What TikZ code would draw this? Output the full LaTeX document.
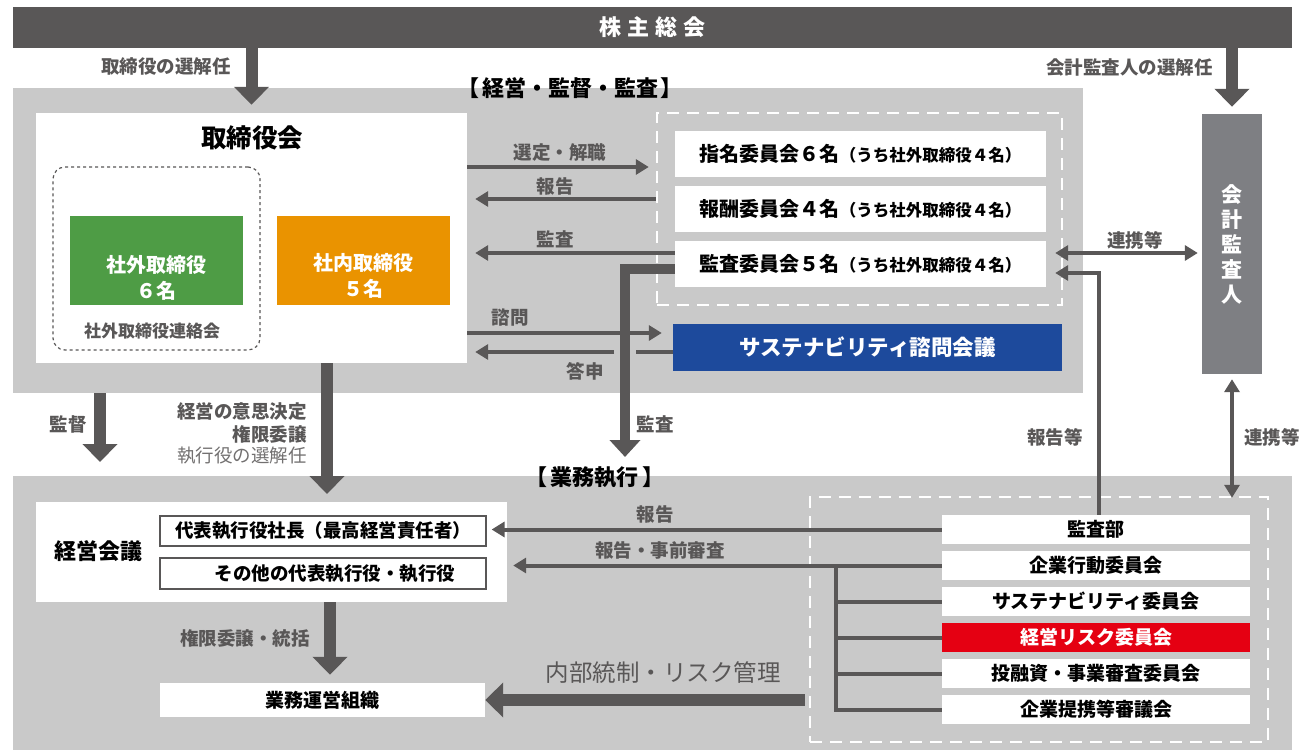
\documentclass[tikz,border=0pt]{standalone}
\usepackage{fontspec}
\setmainfont{Noto Sans CJK JP}
\usetikzlibrary{arrows.meta,calc}
\definecolor{dk}{HTML}{595757}
\definecolor{pan}{HTML}{C9C9C9}
\definecolor{grn}{HTML}{4E9C45}
\definecolor{org}{HTML}{EA9300}
\definecolor{blu}{HTML}{1D4A9C}
\definecolor{aud}{HTML}{7E7F83}
\definecolor{rsk}{HTML}{E50012}
\newcommand\fsz[2]{\fontsize{#1}{#2}\selectfont}
\tikzset{
  wbox/.style={fill=white, inner sep=0pt, align=center, font=\bfseries\fsz{19}{23}},
  lab/.style={text=dk, inner sep=0pt, font=\bfseries\fsz{18.5}{22}},
  thinarr/.style={draw=dk, line width=4pt, -{Triangle[length=13pt,width=15pt]}},
  thinln/.style={draw=dk, line width=4pt},
  thickarr/.style={draw=dk, line width=12pt, -{Triangle[length=18pt,width=34pt]}},
  medarr/.style={draw=dk, line width=10pt, -{Triangle[length=17pt,width=30pt]}},
  dblarr/.style={draw=dk, line width=4pt, {Triangle[length=13pt,width=15pt]}-{Triangle[length=13pt,width=15pt]}},
  dashbox/.style={draw=white, line width=2.5pt, dash pattern=on 12pt off 8pt, inner sep=0pt},
  cbox/.style={fill=white, inner sep=0pt, minimum width=371pt, minimum height=46pt, font=\bfseries},
}
\begin{document}
\begin{tikzpicture}[x=1pt,y=-1pt]
\useasboundingbox (0,0) rectangle (1305,754);
% panels
\node[fill=dk, minimum width=1279pt, minimum height=41pt, inner sep=0pt, text=white, font=\bfseries\fsz{22}{26}] (top) at (652.5,27.5) {株\hspace{6pt}主\hspace{6pt}総\hspace{6pt}会};
\node[fill=pan, minimum width=1070pt, minimum height=305pt, inner sep=0pt] (pan1) at (548,240.5) {};
\node[fill=pan, minimum width=1279pt, minimum height=274pt, inner sep=0pt] (pan2) at (652.5,613) {};
\node[font=\bfseries\fsz{22}{26}, inner sep=1pt] (lab1) at (570,88) {【\hspace{3pt}経営・監督・監査\hspace{3pt}】};
\node[font=\bfseries\fsz{22}{26}, inner sep=1pt] (lab2) at (595,477) {【\hspace{4pt}業務執行\hspace{4pt}】};

% board
\node[fill=white, inner sep=0pt, minimum width=431pt, minimum height=250pt] (board) at (251.5,238) {};
\node[font=\bfseries\fsz{25.5}{30}, inner sep=0pt] (btitle) at (252,138) {取締役会};
\node[draw=dk, line width=1.2pt, dashed, rounded corners=12pt, minimum width=207pt, minimum height=183pt, inner sep=0pt] (liaison) at (156.5,258.5) {};
\node[fill=grn, inner sep=0pt, minimum width=173pt, minimum height=89pt] (outside) at (156.5,260.5) {};
\node[fill=org, inner sep=0pt, minimum width=173pt, minimum height=89pt] (inside) at (363.5,260.5) {};
\node[text=white, align=center, inner sep=0pt, font=\bfseries\fsz{20}{26}] (outsidetxt) at ($(outside)+(0,17)$) {社外取締役\\６名};
\node[text=white, align=center, inner sep=0pt, font=\bfseries\fsz{20}{26}] (insidetxt) at ($(inside)+(0,15)$) {社内取締役\\５名};
\node[lab, font=\bfseries\fsz{17}{20}] (liaisonlab) at (152,331) {社外取締役連絡会};

% committees
\node[dashbox, minimum width=405pt, minimum height=192pt] (cdash) at (859.5,209) {};
\node[cbox] (nom) at (860.5,154) {\fsz{20}{24}指名委員会６名\fsz{16.5}{20}（うち社外取締役４名）};
\node[cbox] (rem) at (860.5,209) {\fsz{20}{24}報酬委員会４名\fsz{16.5}{20}（うち社外取締役４名）};
\node[cbox] (aud) at (860.5,264) {\fsz{20}{24}監査委員会５名\fsz{16.5}{20}（うち社外取締役４名）};
\node[fill=blu, text=white, inner sep=0pt, minimum width=389pt, minimum height=47pt, font=\bfseries\fsz{21.5}{25}] (susadv) at (867.5,347.5) {サステナビリティ諮問会議};

% accounting auditor
\node[fill=aud, text=white, minimum width=60pt, minimum height=260pt, inner sep=0pt, align=center, font=\bfseries\fsz{21}{25}] (acct) at (1232,244) {会\\計\\監\\査\\人};

% management
\node[fill=white, inner sep=0pt, minimum width=471pt, minimum height=100pt] (mgmt) at (271.5,552) {};
\node[font=\bfseries\fsz{22}{26}, inner sep=0pt] (mgmtlab) at (98,551) {経営会議};
\node[wbox, draw=dk, line width=1.2pt, minimum width=326pt, minimum height=30pt, font=\bfseries\fsz{18.5}{22}] (ceo) at (323,531) {代表執行役社長（最高経営責任者）};
\node[wbox, draw=dk, line width=1.2pt, minimum width=326pt, minimum height=31pt, font=\bfseries\fsz{18.5}{22}] (oth) at (323,573.5) {\hspace*{24pt}その他の代表執行役・執行役};
\node[wbox, minimum width=325pt, minimum height=34pt] (ops) at (322.5,700) {業務運営組織};

% right committees
\node[dashbox, minimum width=458pt, minimum height=245pt] (rdash) at (1039,619.5) {};
\node[wbox, minimum width=308pt, minimum height=29pt] (iad) at (1096,529.5) {監査部};
\node[wbox, minimum width=308pt, minimum height=29pt] (cbc) at (1096,565.5) {企業行動委員会};
\node[wbox, minimum width=308pt, minimum height=29pt] (susc) at (1096,601.5) {サステナビリティ委員会};
\node[wbox, fill=rsk, text=white, minimum width=308pt, minimum height=29pt] (risk) at (1096,637.5) {経営リスク委員会};
\node[wbox, minimum width=308pt, minimum height=29pt] (inv) at (1096,673.5) {投融資・事業審査委員会};
\node[wbox, minimum width=308pt, minimum height=29pt] (alli) at (1096,709.5) {企業提携等審議会};

% coordinates
\coordinate (y1) at (0,167);
\coordinate (y2) at (0,199);
\coordinate (y3) at (0,253);
\coordinate (y4) at (0,333);
\coordinate (y5) at (0,352);
\coordinate (gapL) at (614,0);
\coordinate (gapR) at (636,0);
\coordinate (kv) at (625,457);
\coordinate (sv) at (100,462);
\coordinate (bd) at (327,494);
\coordinate (mx) at (330,0);
\coordinate (vx) at (836,0);
\coordinate (ry) at (0,273);
\coordinate (rx) at (1099,0);

% top arrows
\draw[thickarr, shorten >=8pt] (board.north |- top.south) -- (board.north);
\draw[thickarr, shorten >=7pt] (acct.north |- top.south) -- (acct.north);
\node[lab, anchor=east] (l1) at (231,67) {取締役の選解任};
\node[lab, anchor=east] (l2) at (1213,67) {会計監査人の選解任};

% board <-> committees
\draw[thinarr, shorten >=7pt] (board.east |- y1) -- (cdash.west |- y1);
\draw[thinarr, shorten >=8pt] (cdash.west |- y2) -- (board.east |- y2);
\draw[thinarr, shorten >=8pt] (aud.west |- y3) -- (board.east |- y3);
\draw[thinarr, shorten >=11pt] (board.east |- y4) -- (susadv.west |- y4);
\draw[thinln] (susadv.west |- y5) -- (gapR |- y5);
\draw[thinarr, shorten >=8pt] (gapL |- y5) -- (board.east |- y5);
\draw[medarr] ($(aud.west)+(0,5)$) -| (kv);
\node[lab] (t1) at (560,153) {選定・解職};
\node[lab] (t2) at (555,186) {報告};
\node[lab] (t3) at (555,239) {監査};
\node[lab] (t4) at (510,317) {諮問};
\node[lab] (t5) at (585,371) {答申};
\node[lab] (t6) at (655,424) {監査};

% auditor links
\draw[dblarr, shorten <=9pt, shorten >=4pt] (aud.east |- y3) -- (acct.west |- y3);
\draw[thinarr, shorten >=9pt] (iad.north -| rx) |- (aud.east |- ry);
\draw[dblarr, shorten <=5pt, shorten >=-2pt] (acct.south) -- (acct.south |- rdash.north);
\node[lab] (t7) at (1135,240) {連携等};
\node[lab] (t8) at (1055,437) {報告等};
\node[lab] (t9) at (1272,437) {連携等};

% downward arrows
\draw[thickarr] (pan1.south -| sv) -- (sv);
\draw[thickarr] (board.south -| bd) -- (bd);
\node[lab] (t10) at (68,424) {監督};
\node[lab, anchor=east] (t11) at (307,411) {経営の意思決定};
\node[lab, anchor=east] (t12) at (307,434) {権限委譲};
\node[lab, anchor=east, font=\fsz{18.5}{22}, text=dk!85] (t13) at (307,456) {執行役の選解任};

% bottom
\draw[thinarr, shorten >=5pt] (iad.west) -- (ceo.east |- iad.west);
\draw[thinarr, shorten >=6pt] (cbc.west) -- (mgmt.east |- cbc.west);
\draw[thinln] (cbc.west -| vx) |- (alli.west);
\draw[thinln] (susc.west -| vx) -- (susc.west);
\draw[thinln] (risk.west -| vx) -- (risk.west);
\draw[thinln] (inv.west -| vx) -- (inv.west);
\draw[thickarr, shorten >=8pt] (mgmt.south -| mx) -- (ops.north -| mx);
\draw[thickarr] ($(rdash.west |- ops.east)+(-4,0)$) -- (ops.east);
\node[lab] (t14) at (655,514) {報告};
\node[lab] (t15) at (660,550) {報告・事前審査};
\node[lab] (t16) at (245,638) {権限委譲・統括};
\node[lab, font=\fsz{23.5}{28}] (t17) at (663,673) {内部統制・リスク管理};
\end{tikzpicture}
\end{document}
